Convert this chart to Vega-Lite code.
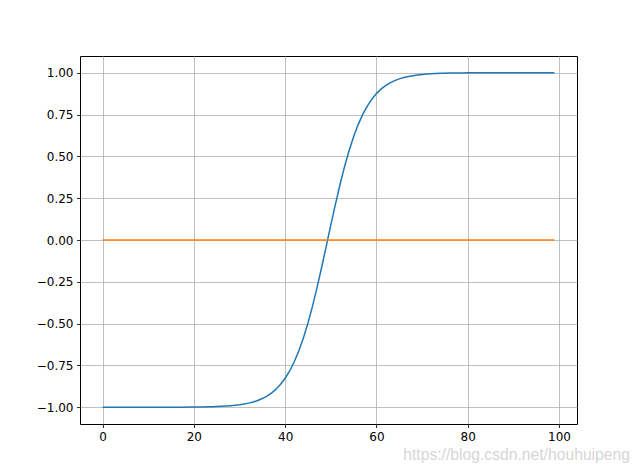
{
  "$schema": "https://vega.github.io/schema/vega-lite/v6.json",
  "width": 497,
  "height": 368,
  "autosize": "none",
  "padding": {"left": 80, "top": 56, "right": 63, "bottom": 52},
  "background": "white",
  "config": {
    "font": "DejaVu Sans",
    "view": {"stroke": "black", "strokeWidth": 1},
    "axis": {
      "grid": true, "gridColor": "#b0b0b0", "gridWidth": 0.8,
      "domain": false, "tickColor": "black", "tickSize": 3.5, "tickWidth": 0.8,
      "labelColor": "black", "labelFontSize": 12, "labelFont": "DejaVu Sans", "labelPadding": 3.5,
      "title": null
    }
  },
  "title": {"text": "https://blog.csdn.net/houhuipeng", "orient": "bottom", "anchor": "end", "color": "#d6d6d6", "fontSize": 15.7, "fontWeight": "normal", "font": "Liberation Sans", "offset": 6, "dx": 53},
  "data": {"values": [
    {"x":0,"a":-0.99999,"b":0},{"x":1,"a":-0.99999,"b":0},{"x":2,"a":-0.99999,"b":0},{"x":3,"a":-0.99998,"b":0},{"x":4,"a":-0.99998,"b":0},
    {"x":5,"a":-0.99997,"b":0},{"x":6,"a":-0.99997,"b":0},{"x":7,"a":-0.99996,"b":0},{"x":8,"a":-0.99994,"b":0},{"x":9,"a":-0.99993,"b":0},
    {"x":10,"a":-0.9999,"b":0},{"x":11,"a":-0.99988,"b":0},{"x":12,"a":-0.99984,"b":0},{"x":13,"a":-0.9998,"b":0},{"x":14,"a":-0.99974,"b":0},
    {"x":15,"a":-0.99966,"b":0},{"x":16,"a":-0.99956,"b":0},{"x":17,"a":-0.99944,"b":0},{"x":18,"a":-0.99928,"b":0},{"x":19,"a":-0.99907,"b":0},
    {"x":20,"a":-0.9988,"b":0},{"x":21,"a":-0.99845,"b":0},{"x":22,"a":-0.99801,"b":0},{"x":23,"a":-0.99744,"b":0},{"x":24,"a":-0.9967,"b":0},
    {"x":25,"a":-0.99575,"b":0},{"x":26,"a":-0.99453,"b":0},{"x":27,"a":-0.99296,"b":0},{"x":28,"a":-0.99094,"b":0},{"x":29,"a":-0.98834,"b":0},
    {"x":30,"a":-0.98501,"b":0},{"x":31,"a":-0.98074,"b":0},{"x":32,"a":-0.97525,"b":0},{"x":33,"a":-0.96824,"b":0},{"x":34,"a":-0.95928,"b":0},
    {"x":35,"a":-0.94785,"b":0},{"x":36,"a":-0.93332,"b":0},{"x":37,"a":-0.91493,"b":0},{"x":38,"a":-0.89175,"b":0},{"x":39,"a":-0.8627,"b":0},
    {"x":40,"a":-0.82657,"b":0},{"x":41,"a":-0.78206,"b":0},{"x":42,"a":-0.72781,"b":0},{"x":43,"a":-0.66262,"b":0},{"x":44,"a":-0.58556,"b":0},
    {"x":45,"a":-0.49623,"b":0},{"x":46,"a":-0.395,"b":0},{"x":47,"a":-0.28321,"b":0},{"x":48,"a":-0.16308,"b":0},{"x":49,"a":-0.03795,"b":0},
    {"x":50,"a":0.08838,"b":0},{"x":51,"a":0.21193,"b":0},{"x":52,"a":0.32906,"b":0},{"x":53,"a":0.43688,"b":0},{"x":54,"a":0.53344,"b":0},
    {"x":55,"a":0.61786,"b":0},{"x":56,"a":0.69008,"b":0},{"x":57,"a":0.75076,"b":0},{"x":58,"a":0.80095,"b":0},{"x":59,"a":0.84196,"b":0},
    {"x":60,"a":0.8751,"b":0},{"x":61,"a":0.90167,"b":0},{"x":62,"a":0.92281,"b":0},{"x":63,"a":0.93955,"b":0},{"x":64,"a":0.95275,"b":0},
    {"x":65,"a":0.96313,"b":0},{"x":66,"a":0.97126,"b":0},{"x":67,"a":0.97761,"b":0},{"x":68,"a":0.98258,"b":0},{"x":69,"a":0.98645,"b":0},
    {"x":70,"a":0.98946,"b":0},{"x":71,"a":0.99181,"b":0},{"x":72,"a":0.99363,"b":0},{"x":73,"a":0.99505,"b":0},{"x":74,"a":0.99616,"b":0},
    {"x":75,"a":0.99702,"b":0},{"x":76,"a":0.99768,"b":0},{"x":77,"a":0.9982,"b":0},{"x":78,"a":0.9986,"b":0},{"x":79,"a":0.99892,"b":0},
    {"x":80,"a":0.99916,"b":0},{"x":81,"a":0.99935,"b":0},{"x":82,"a":0.99949,"b":0},{"x":83,"a":0.99961,"b":0},{"x":84,"a":0.99969,"b":0},
    {"x":85,"a":0.99976,"b":0},{"x":86,"a":0.99982,"b":0},{"x":87,"a":0.99986,"b":0},{"x":88,"a":0.99989,"b":0},{"x":89,"a":0.99991,"b":0},
    {"x":90,"a":0.99993,"b":0},{"x":91,"a":0.99995,"b":0},{"x":92,"a":0.99996,"b":0},{"x":93,"a":0.99997,"b":0},{"x":94,"a":0.99998,"b":0},
    {"x":95,"a":0.99998,"b":0},{"x":96,"a":0.99999,"b":0},{"x":97,"a":0.99999,"b":0},{"x":98,"a":0.99999,"b":0},{"x":99,"a":0.99999,"b":0}
  ]},
  "encoding": {
    "x": {"field": "x", "type": "quantitative", "scale": {"domain": [-4.95, 103.95], "nice": false, "zero": false},
          "axis": {"values": [0, 20, 40, 60, 80, 100], "format": "d"}}
  },
  "layer": [
    {
      "mark": {"type": "line", "color": "#1f77b4", "strokeWidth": 1.5, "clip": true},
      "encoding": {
        "y": {"field": "a", "type": "quantitative", "scale": {"domain": [-1.1, 1.1], "nice": false, "zero": false},
              "axis": {"values": [-1, -0.75, -0.5, -0.25, 0, 0.25, 0.5, 0.75, 1], "format": ".2f"}}
      }
    },
    {
      "mark": {"type": "line", "color": "#ff7f0e", "strokeWidth": 1.5, "clip": true},
      "encoding": {"y": {"field": "b", "type": "quantitative"}}
    }
  ]
}
